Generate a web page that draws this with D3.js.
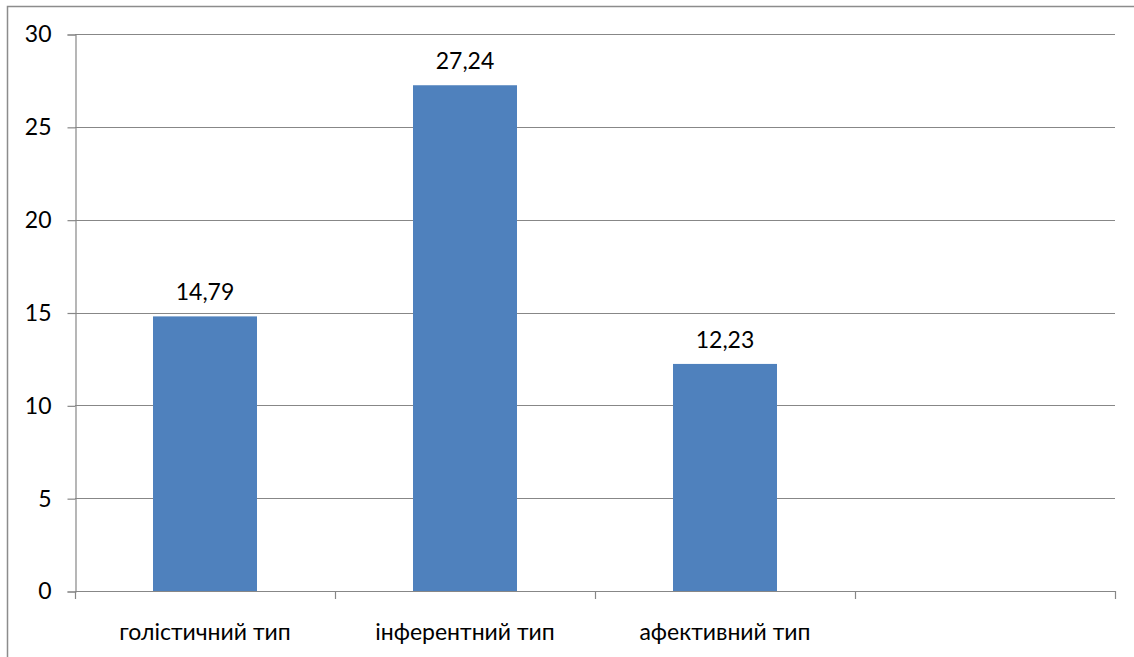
<!DOCTYPE html>
<html>
<head>
<meta charset="utf-8">
<script src="https://cdn.jsdelivr.net/npm/d3@7/dist/d3.min.js"></script>
<style>
  html, body { margin: 0; padding: 0; background: #fff; }
  svg { display: block; }
  text { font-family: Lato, "Open Sans", sans-serif; fill: #000; }
</style>
</head>
<body>
<svg id="chart" width="1134" height="657"></svg>
<script>
// Category slots (the last slot is left empty)
const categories = ["голістичний тип", "інферентний тип", "афективний тип", ""];
const values = [14.79, 27.24, 12.23, null];
const valueLabels = ["14,79", "27,24", "12,23", ""];
const yTicks = [0, 5, 10, 15, 20, 25, 30];

const W = 1134, H = 657;
const plot = { left: 75, right: 1115, top: 34, bottom: 591 };
const gridColor = "#878787";
const barColor = "#4F81BD";
const fontSize = "23px";

const svg = d3.select("#chart");

// outer chart frame
svg.append("rect")
  .attr("x", 7.5).attr("y", 6.5)
  .attr("width", W).attr("height", H)
  .attr("fill", "none")
  .attr("stroke", "#8c8c8c")
  .attr("stroke-width", 1.5);

const x = d3.scaleBand()
  .domain(d3.range(categories.length))
  .range([plot.left, plot.right])
  .paddingInner(0.6)
  .paddingOuter(0.3);

const y = d3.scaleLinear().domain([0, 30]).range([plot.bottom, plot.top]);

// horizontal gridlines
svg.append("g")
  .selectAll("line")
  .data(yTicks)
  .join("line")
  .attr("x1", plot.left).attr("x2", plot.right)
  .attr("y1", d => Math.round(y(d)) + 0.5)
  .attr("y2", d => Math.round(y(d)) + 0.5)
  .attr("stroke", gridColor)
  .attr("stroke-width", 1.2);

// y axis
const yAxis = d3.axisLeft(y)
  .tickValues(yTicks)
  .tickSize(8)
  .tickPadding(16)
  .tickFormat(d3.format("d"));
const gy = svg.append("g")
  .attr("transform", `translate(${plot.left + 0.5},0.5)`)
  .call(yAxis);
gy.select(".domain").attr("stroke", gridColor).attr("stroke-width", 1.2);
gy.selectAll(".tick line").attr("stroke", gridColor).attr("stroke-width", 1.2);
gy.selectAll(".tick text")
  .style("font-family", "Lato, 'Open Sans', sans-serif")
  .style("font-size", fontSize)
  .attr("fill", "#000");

// x axis: tick marks at slot boundaries
const step = x.step();
const boundaries = d3.range(categories.length + 1).map(i => plot.left + i * step);
svg.append("g")
  .selectAll("line")
  .data(boundaries)
  .join("line")
  .attr("x1", d => Math.round(d) + 0.5).attr("x2", d => Math.round(d) + 0.5)
  .attr("y1", plot.bottom).attr("y2", plot.bottom + 8)
  .attr("stroke", gridColor)
  .attr("stroke-width", 1.2);

// bars
const data = categories.map((c, i) => ({ i, c, v: values[i], label: valueLabels[i] }))
  .filter(d => d.v !== null);

svg.append("g")
  .selectAll("rect")
  .data(data)
  .join("rect")
  .attr("x", d => x(d.i))
  .attr("width", x.bandwidth())
  .attr("y", d => y(d.v))
  .attr("height", d => y(0) - y(d.v))
  .attr("fill", barColor);

// value labels
svg.append("g")
  .selectAll("text")
  .data(data)
  .join("text")
  .attr("x", d => x(d.i) + x.bandwidth() / 2)
  .attr("y", d => y(d.v) - 16)
  .attr("text-anchor", "middle")
  .style("font-size", fontSize)
  .text(d => d.label);

// category labels
svg.append("g")
  .selectAll("text")
  .data(data)
  .join("text")
  .attr("x", d => x(d.i) + x.bandwidth() / 2)
  .attr("y", 640)
  .attr("text-anchor", "middle")
  .style("font-size", fontSize)
  .text(d => d.c);
</script>
</body>
</html>
